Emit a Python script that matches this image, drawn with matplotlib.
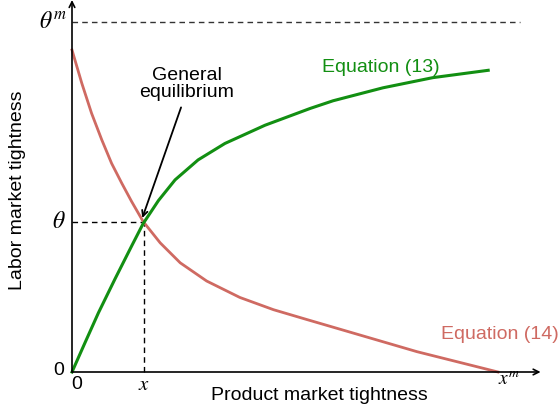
import matplotlib
matplotlib.use("Agg")
import matplotlib.pyplot as plt

plt.rcParams['font.family'] = ['Liberation Sans', 'DejaVu Sans']
plt.rcParams['mathtext.fontset'] = 'stix'

# Equation (14): decreasing curve
eq14_x = [0.0, 0.023, 0.046, 0.070, 0.093, 0.117, 0.140, 0.167, 0.207, 0.254, 0.316,
          0.394, 0.473, 0.551, 0.613, 0.810, 1.0]
eq14_y = [0.920, 0.825, 0.739, 0.663, 0.596, 0.539, 0.487, 0.430, 0.369, 0.312, 0.260,
          0.213, 0.178, 0.150, 0.128, 0.058, 0.0]

# Equation (13): increasing curve
eq13_x = [0.0, 0.031, 0.062, 0.101, 0.140, 0.167, 0.203, 0.242, 0.296, 0.359, 0.453,
          0.559, 0.613, 0.730, 0.847, 0.977]
eq13_y = [0.0, 0.085, 0.169, 0.266, 0.360, 0.424, 0.490, 0.549, 0.606, 0.653, 0.705,
          0.753, 0.775, 0.812, 0.841, 0.862]

eq_x, eq_theta = 0.168, 0.428
theta_m = 1.0
x_m = 1.0

fig = plt.figure(figsize=(5.59, 4.12), dpi=100)
ax = fig.add_axes([0, 0, 1, 1])
ax.set_xlim(-72/426, (559-72)/426)
ax.set_ylim(-40/350, 372/350)
ax.axis('off')

green = '#128f12'
red = '#cf6a62'

# axes with arrows
ax.annotate('', xy=(0, 372/350), xytext=(0, 0),
            arrowprops=dict(arrowstyle='->', lw=1.2, color='black', shrinkA=0, shrinkB=0))
ax.annotate('', xy=(1.1, 0), xytext=(0, 0),
            arrowprops=dict(arrowstyle='->', lw=1.2, color='black', shrinkA=0, shrinkB=0))

# dashed lines
ax.plot([0, 1.052], [theta_m, theta_m], ls=(0, (4, 3)), color='#333333', lw=1)
ax.plot([0, eq_x], [eq_theta, eq_theta], ls=(0, (4, 3)), color='black', lw=1)
ax.plot([eq_x, eq_x], [0, eq_theta], ls=(0, (4, 3)), color='black', lw=1)

ax.plot(eq14_x, eq14_y, color=red, lw=2, solid_joinstyle='round')
ax.plot(eq13_x, eq13_y, color=green, lw=2.2, solid_joinstyle='round')

# annotation
ax.text(0.27, 0.823, 'General\nequilibrium', ha='center', va='center', fontsize=14,
        linespacing=1.05)
ax.annotate('', xy=(eq_x - 0.003, eq_theta + 0.012), xytext=(0.256, 0.756),
            arrowprops=dict(arrowstyle='->', lw=1.3, color='black', shrinkA=0, shrinkB=0))

ax.text(0.725, 0.869, 'Equation (13)', color=green, fontsize=14, ha='center', va='center')
ax.text(1.005, 0.106, 'Equation (14)', color=red, fontsize=14, ha='center', va='center')

# tick-like labels
ax.text(-0.012, theta_m, r'$\theta^m$', fontsize=17, ha='right', va='center')
ax.text(-0.015, eq_theta, r'$\theta$', fontsize=17, ha='right', va='center')
ax.text(-0.018, 0.003, '0', fontsize=14, ha='right', va='center')
ax.text(0.01, -0.036, '0', fontsize=14, ha='center', va='center')
ax.text(eq_x, -0.036, r'$x$', fontsize=15, ha='center', va='center')
ax.text(1.025, -0.024, r'$x^m$', fontsize=14, ha='center', va='center')

ax.text(0.58, -0.066, 'Product market tightness', fontsize=14, ha='center', va='center')
ax.text(-0.127, 0.52, 'Labor market tightness', fontsize=14, ha='center', va='center', rotation=90)

fig.savefig('out.png', dpi=100)
